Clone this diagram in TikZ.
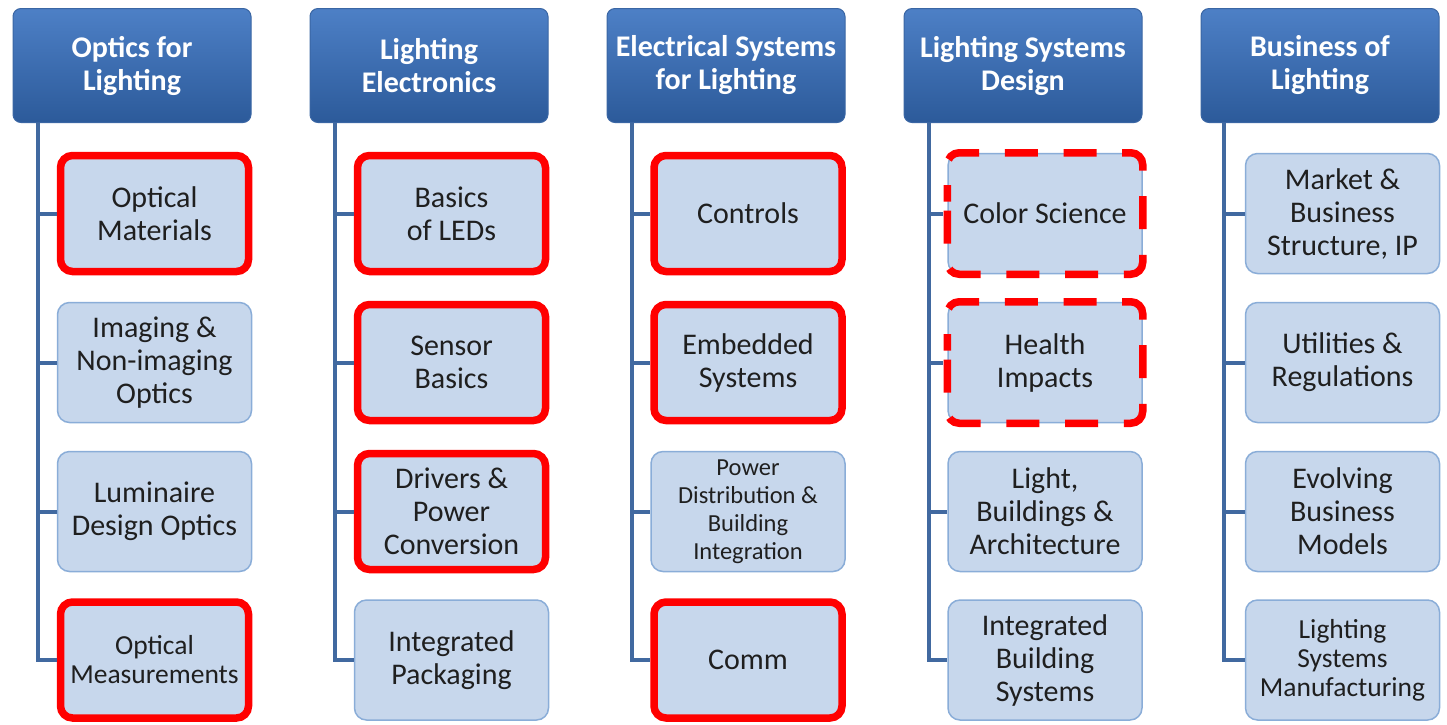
\documentclass[tikz,border=0pt]{standalone}
\usepackage{fontspec}
\setmainfont{Carlito}
\usepackage{tikz}
\usepackage{xcolor}
\definecolor{head-top}{HTML}{4D80C6}
\definecolor{head-bottom}{HTML}{2C5A9A}
\definecolor{head-edge}{HTML}{3A66A4}
\definecolor{topic-fill}{HTML}{C7D7EC}
\definecolor{topic-edge}{HTML}{8AADD8}
\definecolor{trunk-blue}{HTML}{4169A0}
\tikzset{
    head-box/.style = {draw=head-edge, top color=head-top, bottom color=head-bottom, rectangle, rounded corners=8pt, line width=1pt, minimum width=238pt, minimum height=114pt, align=center, text=white, font=\fontsize{30}{33}\selectfont\bfseries},
    topic-box/.style = {draw=topic-edge, fill=topic-fill, rectangle, rounded corners=12pt, line width=1.5pt, minimum width=194pt, minimum height=120pt, align=center, text=black!88, font=\fontsize{30}{33}\selectfont},
    key-box/.style = {topic-box, draw=red, line width=7.5pt, minimum width=188pt, minimum height=116pt},
    maybe-line/.style = {draw=red, line width=7.5pt, rounded corners=12pt, dash pattern=on 33pt off 25.74pt, dash phase=16.5pt},
    small-text/.style = {font=\fontsize{27.5}{29}\selectfont},
    tiny-text/.style = {font=\fontsize{24.5}{28}\selectfont},
    branch/.style = {draw=trunk-blue, line width=4pt},
}
\begin{document}
\begin{tikzpicture}[x=1pt, y=-1pt]
\useasboundingbox[fill=white] (0,0) rectangle (1447,724);

% column headers
\node[head-box] (h1) at (132,65.5) {Optics for\\Lighting};
\node[head-box] (h2) at (429,65.5) {Lighting\\Electronics};
\node[head-box] (h3) at (726,65.5) {Electrical Systems\\for Lighting};
\node[head-box] (h4) at (1023,65.5) {Lighting Systems\\Design};
\node[head-box] (h5) at (1320,65.5) {Business of\\Lighting};

% optics
\node[key-box] (c11) at (154.5,213.5) {Optical\\Materials};
\node[topic-box] (c12) at (154.5,362.5) {Imaging \&\\Non-imaging\\Optics};
\node[topic-box] (c13) at (154.5,511.5) {Luminaire\\Design Optics};
\node[key-box, small-text] (c14) at (154.5,660) {Optical\\Measurements};

% electronics
\node[key-box] (c21) at (451.5,213.5) {Basics\\of LEDs};
\node[key-box] (c22) at (451.5,362.5) {Sensor\\Basics};
\node[key-box] (c23) at (451.5,511.5) {Drivers \&\\Power\\Conversion};
\node[topic-box] (c24) at (451.5,660) {Integrated\\Packaging};

% electrical systems
\node[key-box] (c31) at (748,213.5) {Controls};
\node[key-box] (c32) at (748,362.5) {Embedded\\Systems};
\node[topic-box, tiny-text] (c33) at (748,511.5) {Power\\Distribution \&\\Building\\Integration};
\node[key-box] (c34) at (748,660) {Comm};

% systems design
\node[topic-box] (c41) at (1045,213.5) {Color Science};
\node[topic-box] (c42) at (1045,362.5) {Health\\Impacts};
\node[topic-box] (c43) at (1045,511.5) {Light,\\Buildings \&\\Architecture};
\node[topic-box] (c44) at (1045,660) {Integrated\\Building\\Systems};
\draw[maybe-line] (c41.west) |- (c41.north east) |- (c41.south west) -- cycle;
\draw[maybe-line] (c42.west) |- (c42.north east) |- (c42.south west) -- cycle;

% business
\node[topic-box] (c51) at (1342.5,213.5) {Market \&\\Business\\Structure, IP};
\node[topic-box] (c52) at (1342.5,362.5) {Utilities \&\\Regulations};
\node[topic-box] (c53) at (1342.5,511.5) {Evolving\\Business\\Models};
\node[topic-box, small-text] (c54) at (1342.5,660) {Lighting\\Systems\\Manufacturing};

% trunks and branches
\draw[branch] ([xshift=25pt]h1.south west) |- (c11.west);
\draw[branch] ([xshift=25pt]h1.south west) |- (c12.west);
\draw[branch] ([xshift=25pt]h1.south west) |- (c13.west);
\draw[branch] ([xshift=25pt]h1.south west) |- (c14.west);
\draw[branch] ([xshift=25pt]h2.south west) |- (c21.west);
\draw[branch] ([xshift=25pt]h2.south west) |- (c22.west);
\draw[branch] ([xshift=25pt]h2.south west) |- (c23.west);
\draw[branch] ([xshift=25pt]h2.south west) |- (c24.west);
\draw[branch] ([xshift=25pt]h3.south west) |- (c31.west);
\draw[branch] ([xshift=25pt]h3.south west) |- (c32.west);
\draw[branch] ([xshift=25pt]h3.south west) |- (c33.west);
\draw[branch] ([xshift=25pt]h3.south west) |- (c34.west);
\draw[branch] ([xshift=25pt]h4.south west) |- ([xshift=-4pt]c41.west);
\draw[branch] ([xshift=25pt]h4.south west) |- ([xshift=-4pt]c42.west);
\draw[branch] ([xshift=25pt]h4.south west) |- (c43.west);
\draw[branch] ([xshift=25pt]h4.south west) |- (c44.west);
\draw[branch] ([xshift=23pt]h5.south west) |- (c51.west);
\draw[branch] ([xshift=23pt]h5.south west) |- (c52.west);
\draw[branch] ([xshift=23pt]h5.south west) |- (c53.west);
\draw[branch] ([xshift=23pt]h5.south west) |- (c54.west);
\end{tikzpicture}
\end{document}
